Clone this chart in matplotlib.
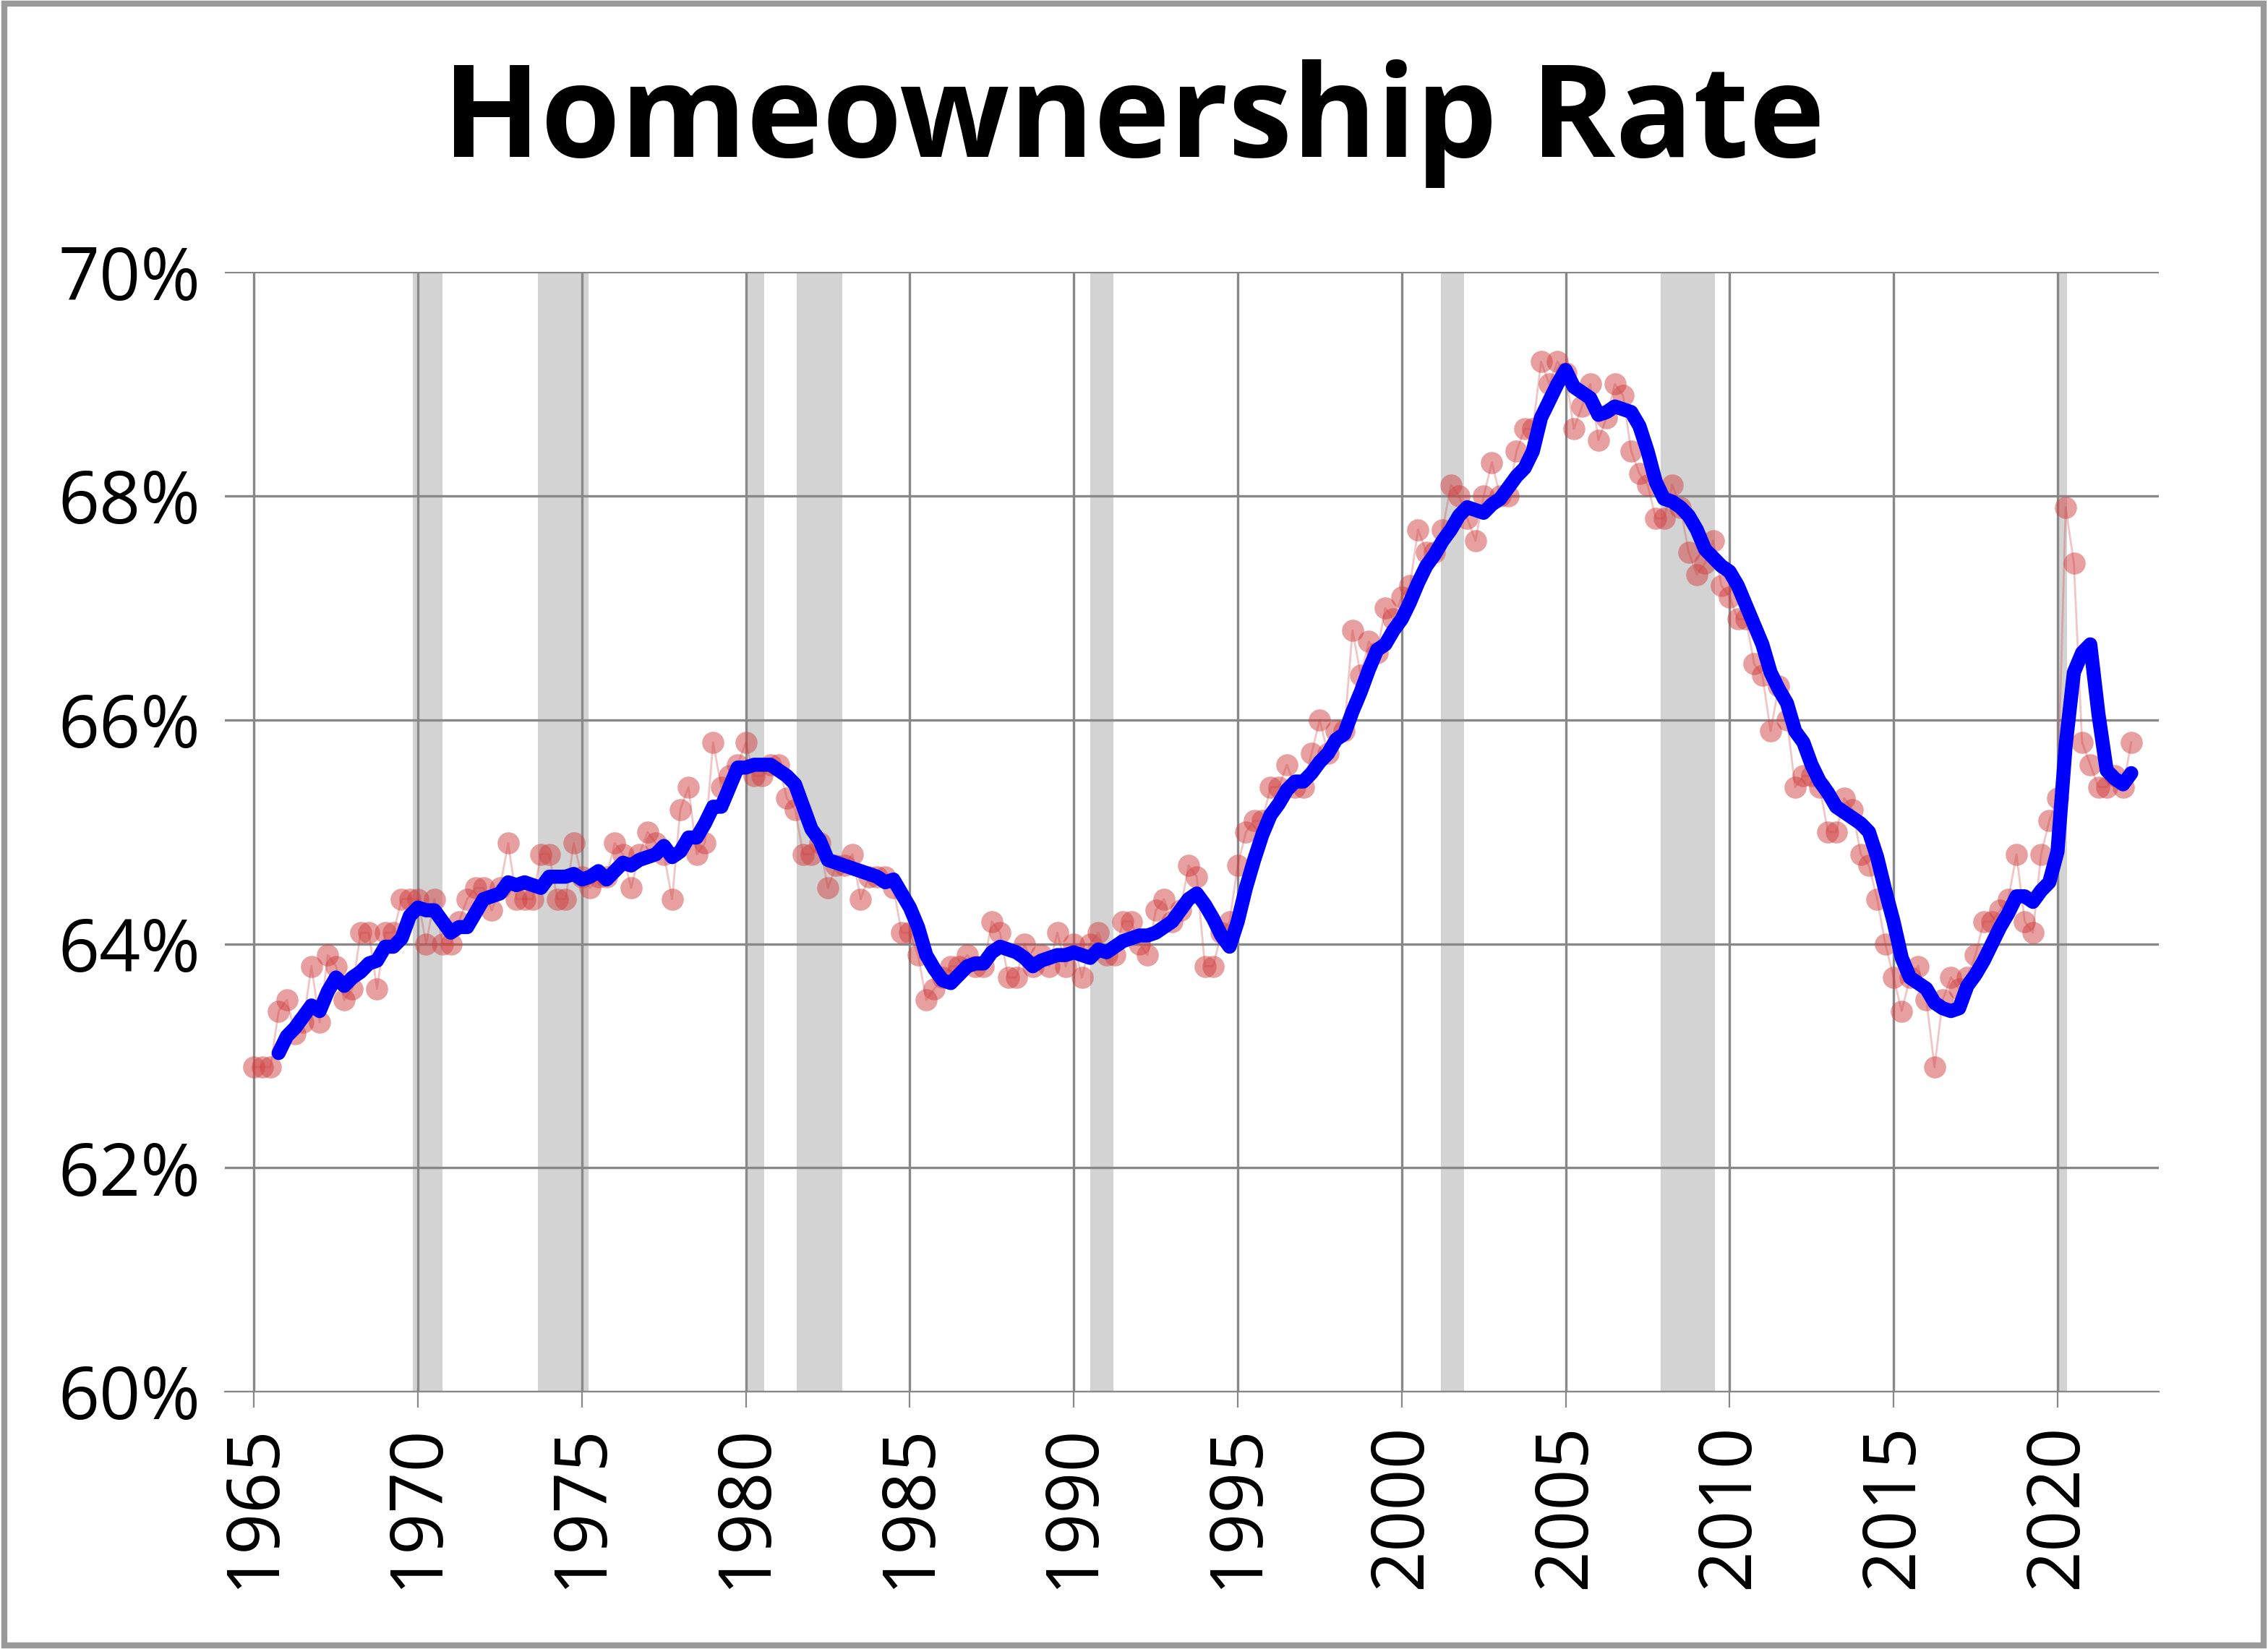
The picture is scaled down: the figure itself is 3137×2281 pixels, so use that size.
import numpy as np
import pandas as pd
import matplotlib
matplotlib.use("Agg")
from matplotlib import pyplot as plt

# quarterly homeownership rate (%), 1965Q1 .. 2022Q2
rate = [
    62.9, 62.9, 62.9, 63.4,  63.5, 63.2, 63.3, 63.8,  63.3, 63.9, 63.8, 63.5,
    63.6, 64.1, 64.1, 63.6,  64.1, 64.1, 64.4, 64.4,  64.4, 64.0, 64.4, 64.0,
    64.0, 64.2, 64.4, 64.5,  64.5, 64.3, 64.5, 64.9,  64.4, 64.4, 64.4, 64.8,
    64.8, 64.4, 64.4, 64.9,  64.6, 64.5, 64.6, 64.6,  64.9, 64.8, 64.5, 64.8,
    65.0, 64.9, 64.8, 64.4,  65.2, 65.4, 64.8, 64.9,  65.8, 65.4, 65.5, 65.6,
    65.8, 65.5, 65.5, 65.6,  65.6, 65.3, 65.2, 64.8,  64.8, 64.9, 64.5, 64.7,
    64.7, 64.8, 64.4, 64.6,  64.6, 64.6, 64.5, 64.1,  64.1, 63.9, 63.5, 63.6,
    63.7, 63.8, 63.8, 63.9,  63.8, 63.8, 64.2, 64.1,  63.7, 63.7, 64.0, 63.8,
    63.9, 63.8, 64.1, 63.8,  64.0, 63.7, 64.0, 64.1,  63.9, 63.9, 64.2, 64.2,
    64.0, 63.9, 64.3, 64.4,  64.2, 64.3, 64.7, 64.6,  63.8, 63.8, 64.1, 64.2,
    64.7, 65.0, 65.1, 65.1,  65.4, 65.4, 65.6, 65.4,  65.4, 65.7, 66.0, 65.7,
    65.9, 65.9, 66.8, 66.4,  66.7, 66.6, 67.0, 66.9,  67.1, 67.2, 67.7, 67.5,
    67.5, 67.7, 68.1, 68.0,  67.8, 67.6, 68.0, 68.3,  68.0, 68.0, 68.4, 68.6,
    68.6, 69.2, 69.0, 69.2,  69.1, 68.6, 68.8, 69.0,  68.5, 68.7, 69.0, 68.9,
    68.4, 68.2, 68.1, 67.8,  67.8, 68.1, 67.9, 67.5,  67.3, 67.4, 67.6, 67.2,
    67.1, 66.9, 66.9, 66.5,  66.4, 65.9, 66.3, 66.0,  65.4, 65.5, 65.5, 65.4,
    65.0, 65.0, 65.3, 65.2,  64.8, 64.7, 64.4, 64.0,  63.7, 63.4, 63.7, 63.8,
    63.5, 62.9, 63.5, 63.7,  63.6, 63.7, 63.9, 64.2,  64.2, 64.3, 64.4, 64.8,
    64.2, 64.1, 64.8, 65.1,  65.3, 67.9, 67.4, 65.8,  65.6, 65.4, 65.4, 65.5,
    65.4, 65.8,
]
start_year = 1965
recessions = [(1969.85, 1970.75), (1973.65, 1975.2), (1980.05, 1980.55),
              (1981.55, 1982.95), (1990.5, 1991.2), (2001.2, 2001.9),
              (2007.9, 2009.55), (2020.0, 2020.3)]

s = pd.Series(rate)
x = start_year + np.arange(len(rate)) * 0.25
smooth = s.rolling(4).mean()

plt.rcParams['font.family'] = ['Open Sans', 'DejaVu Sans']
fig = plt.figure(figsize=(15.685, 11.405), dpi=200)
fig.patches.append(plt.Rectangle((0.002, 0.002), 0.996, 0.996, transform=fig.transFigure,
                                 fill=False, edgecolor='#999999', linewidth=3))
ax = fig.add_axes([0.099, 0.156, 0.853, 0.679])

for a, b in recessions:
    ax.axvspan(a, b, color='#d3d3d3', zorder=0, linewidth=0)

ax.plot(x, rate, color='#d04040', alpha=0.3, linewidth=1, zorder=2)
ax.plot(x, rate, 'o', color='#d04040', alpha=0.5, markersize=11, markeredgewidth=0, zorder=3)
ax.plot(x, smooth, color='#0000ff', linewidth=7, solid_capstyle='round', zorder=4)

ax.set_xlim(1964.1, 2023.1)
ax.set_ylim(60, 70)
ax.set_yticks(range(60, 71, 2))
ax.set_yticklabels([f'{v}%' for v in range(60, 71, 2)])
ax.set_xticks(range(1965, 2021, 5))
ax.tick_params(axis='y', labelsize=36, length=0, pad=12)
ax.tick_params(axis='x', labelsize=36, rotation=90, length=8, color='#888888', pad=8)
ax.grid(True, color='#888888', linewidth=1.2)
ax.set_axisbelow(True)
for side in ['top', 'right', 'left']:
    ax.spines[side].set_visible(False)
ax.spines['bottom'].set_color('#888888')

fig.text(0.5, 0.925, 'Homeownership Rate', ha='center', va='center',
         fontsize=64, fontweight='bold')
fig.savefig('out.png', dpi=200)
